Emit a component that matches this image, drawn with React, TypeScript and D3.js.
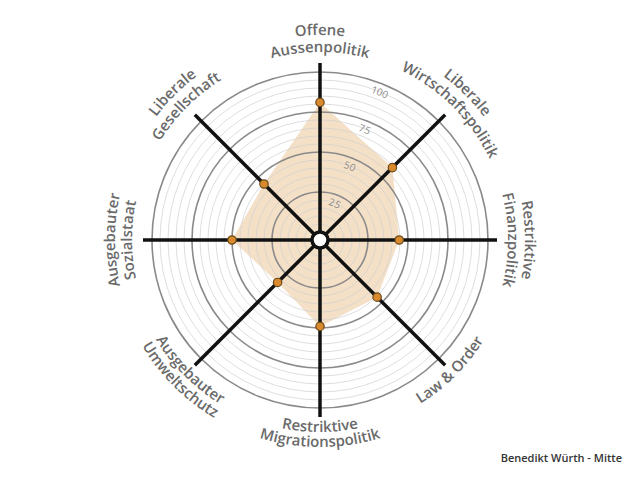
import React from "react";
import * as d3 from "d3";

const categories: string[][] = [
  ["Offene", "Aussenpolitik"],
  ["Liberale", "Wirtschaftspolitik"],
  ["Restriktive", "Finanzpolitik"],
  ["Law & Order"],
  ["Restriktive", "Migrationspolitik"],
  ["Ausgebauter", "Umweltschutz"],
  ["Ausgebauter", "Sozialstaat"],
  ["Liberale", "Gesellschaft"],
];
const values: number[] = [81, 59, 44.5, 45.5, 49, 32.5, 50, 44.5];
const tickValues: number[] = [25, 50, 75, 100];
const minorRings: number[] = d3.range(5, 101, 5);
const footer = "Benedikt Würth - Mitte";

const W = 640;
const H = 480;
const cx = 320;
const cy = 240;

export default function App() {
  const r = d3.scaleLinear().domain([0, 100]).range([8, 168]);
  const n = categories.length;
  const angle = (i: number) => (i * 2 * Math.PI) / n; // clockwise from top
  const pt = (a: number, rad: number): [number, number] => [
    Math.sin(a) * rad,
    -Math.cos(a) * rad,
  ];

  const radial = d3
    .lineRadial<number>()
    .angle((_, i) => angle(i))
    .radius((d) => r(d))
    .curve(d3.curveLinearClosed);
  const area = radial(values) || "";

  const arcPath = (a: number, rad: number, cw: boolean, span = 1.4) => {
    const a0 = cw ? a - span : a + span;
    const a1 = cw ? a + span : a - span;
    const [x0, y0] = pt(a0, rad);
    const [x1, y1] = pt(a1, rad);
    return `M${x0},${y0} A${rad},${rad} 0 0 ${cw ? 1 : 0} ${x1},${y1}`;
  };

  const labelFont = "'Open Sans', 'Noto Sans', sans-serif";
  const tickAngle = (22 * Math.PI) / 180;

  return (
    <svg width={W} height={H} style={{ display: "block", position: "absolute", left: 0, top: 0 }}>
      <rect width={W} height={H} fill="#fff" />
      <defs>
        {categories.map((lines, i) => {
          const a = angle(i);
          const deg = (i * 360) / n;
          const cw = !(deg > 100 && deg < 260);
          const radii = cw
            ? lines.length === 2
              ? [205, 188]
              : [196]
            : lines.length === 2
            ? [192, 207]
            : [192];
          return lines.map((_, j) => (
            <path
              key={`p${i}-${j}`}
              id={`lab-${i}-${j}`}
              d={arcPath(a, radii[j], cw)}
              transform={`translate(${cx},${cy})`}
            />
          ));
        })}
        {tickValues.map((t) => (
          <path
            key={`tp${t}`}
            id={`tick-${t}`}
            d={arcPath(tickAngle, r(t) - 12, true, 0.6)}
            transform={`translate(${cx},${cy})`}
          />
        ))}
      </defs>
      <g transform={`translate(${cx},${cy})`}>
        <path d={area} fill="#f2dabd" fillOpacity={0.85} stroke="none" />
        {minorRings.map((v) => (
          <circle
            key={`m${v}`}
            r={r(v)}
            fill="none"
            stroke={v % 25 === 0 ? "#8a8a8a" : "#d0d0d0"}
            strokeOpacity={v % 25 === 0 ? 1 : 0.7}
            strokeWidth={v % 25 === 0 ? 1.6 : 1}
          />
        ))}
        {categories.map((_, i) => {
          const [x, y] = pt(angle(i), 177);
          return (
            <line key={`ax${i}`} x1={0} y1={0} x2={x} y2={y} stroke="#111" strokeWidth={3.5} />
          );
        })}
        <circle r={8} fill="#fff" stroke="#111" strokeWidth={3.5} />
        {values.map((v, i) => {
          const [x, y] = pt(angle(i), r(v));
          return (
            <circle
              key={`d${i}`}
              cx={x}
              cy={y}
              r={4.2}
              fill="#d88a2c"
              stroke="#6b4a1e"
              strokeWidth={1.2}
            />
          );
        })}
      </g>
      {tickValues.map((t) => (
        <text key={`tt${t}`} fontFamily={labelFont} fontSize={10} fill="#8a8a8a">
          <textPath href={`#tick-${t}`} startOffset="50%" textAnchor="middle">
            {t}
          </textPath>
        </text>
      ))}
      {categories.map((lines, i) =>
        lines.map((line, j) => (
          <text
            key={`l${i}-${j}`}
            fontFamily={labelFont}
            fontSize={15}
            fontWeight={600}
            fill="#6a6a6a"
          >
            <textPath href={`#lab-${i}-${j}`} startOffset="50%" textAnchor="middle">
              {line}
            </textPath>
          </text>
        ))
      )}
      <text
        x={622}
        y={462}
        textAnchor="end"
        fontFamily="'Open Sans', 'Noto Sans', sans-serif"
        fontSize={11}
        fontWeight={600}
        fill="#333"
      >
        {footer}
      </text>
    </svg>
  );
}
